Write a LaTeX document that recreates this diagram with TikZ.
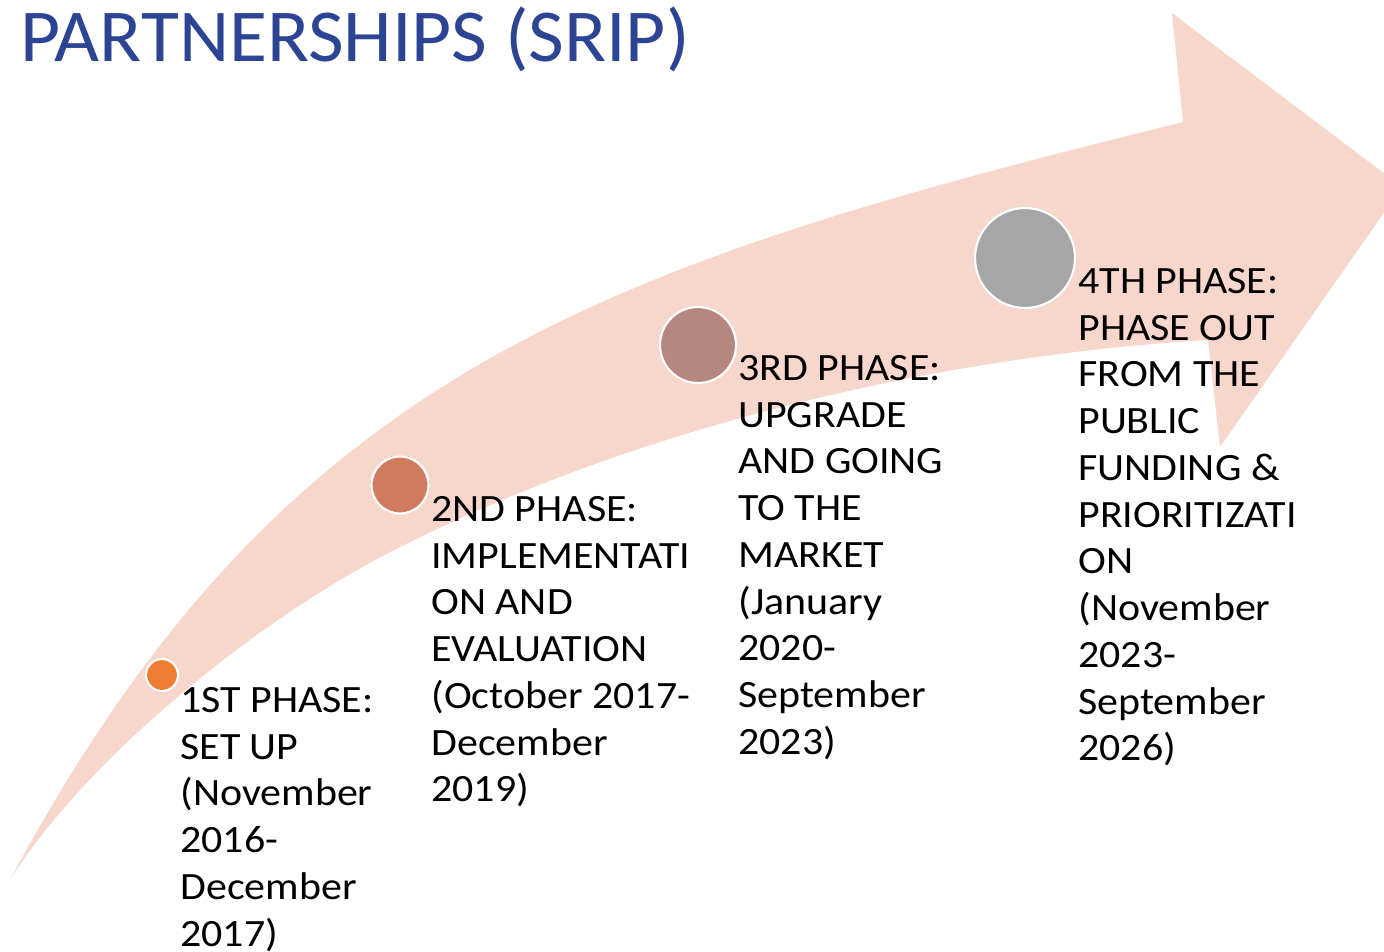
\documentclass[tikz,border=0pt]{standalone}
\usepackage{fontspec}
\setmainfont{Carlito}
\newfontfamily\titlefont{Carlito}[FakeStretch=1.04]
\newfontfamily\phasefont{Carlito}[FakeStretch=1.085]
\definecolor{arrowpink}{HTML}{F7D6CB}
\definecolor{titleblue}{HTML}{2C4494}
\definecolor{dotone}{HTML}{ED7D31}
\definecolor{dottwo}{HTML}{D07B5E}
\definecolor{dotthree}{HTML}{B5877F}
\definecolor{dotfour}{HTML}{A6A6A6}
\tikzset{
  phasedot/.style={circle,draw=white,line width=1.2pt,inner sep=0pt},
  phasetext/.style={anchor=north west,align=left,inner sep=0pt,font=\phasefont\fontsize{22}{26.6}\selectfont},
}
\begin{document}
\begin{tikzpicture}[x=0.02cm,y=-0.02cm]
    \useasboundingbox (0,0) rectangle (1384,951);
    \clip (0,0) rectangle (1384,951);
    \fill[arrowpink] (10,880) .. controls (283,370) and (601,266) .. (1183,122) -- (1172,13) -- (1402,187) -- (1220,447) -- (1208,340)
      .. controls (938,356) and (641,426) .. (400,547) .. controls (257,618.5) and (84,761) .. (10,880) -- cycle;
    \node[anchor=base west,inner sep=0pt,text=titleblue,font=\titlefont\fontsize{42.5}{50}\selectfont] (title) at (20,61) {PARTNERSHIPS (SRIP)};
    \foreach \n/\x/\y/\r/\c in {one/162/675/16/dotone, two/400/485/28.5/dottwo, three/698/345/38/dotthree, four/1025/258/50/dotfour}
    \node[phasedot,fill=\c,minimum size=\r*0.04cm] (\n) at (\x,\y) {};
    \node[phasetext] (phaseone) at (180,687) {1ST PHASE:\\SET UP\\(November\\2016-\\December\\2017)};
    \node[phasetext] (phasetwo) at (431,496) {2ND PHASE:\\IMPLEMENTATI\\ON AND\\EVALUATION\\(October 2017-\\December\\2019)};
    \node[phasetext] (phasethree) at (738,355) {3RD PHASE:\\UPGRADE\\AND GOING\\TO THE\\MARKET\\(January\\2020-\\September\\2023)};
    \node[phasetext] (phasefour) at (1078,268) {4TH PHASE:\\PHASE OUT\\FROM THE\\PUBLIC\\FUNDING \&\\PRIORITIZATI\\ON\\(November\\2023-\\September\\2026)};
  \end{tikzpicture}
\end{document}
